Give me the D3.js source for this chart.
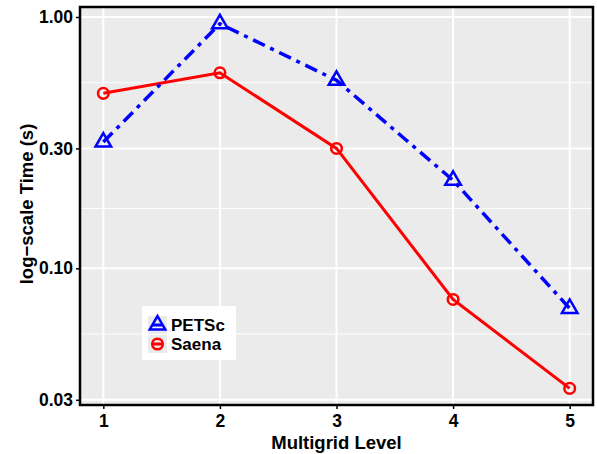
<!DOCTYPE html>
<html>
<head>
<meta charset="utf-8">
<script src="https://cdnjs.cloudflare.com/ajax/libs/d3/7.8.5/d3.min.js"></script>
<style>
  body { margin: 0; background: #fff; }
  text { font-family: "Liberation Sans", Arial, sans-serif; font-weight: bold; }
</style>
</head>
<body>
<div id="chart"></div>
<script>
// data
var levels = [1, 2, 3, 4, 5];
var petsc = [0.318, 0.94, 0.56, 0.224, 0.0693];
var saena = [0.497, 0.60, 0.30, 0.0752, 0.0333];
var yTicks = [0.03, 0.10, 0.30, 1.00];
var yMinor = [0.0548, 0.1732, 0.5477];

var width = 597, height = 454;
var m = {left: 80, right: 4, top: 7, bottom: 49};
var pw = width - m.left - m.right, ph = height - m.top - m.bottom;

var svg = d3.select("#chart").append("svg")
    .attr("width", width).attr("height", height);

var x = d3.scaleLinear().domain([0.8, 5.2]).range([0, pw]);
var y = d3.scaleLog().domain([0.0286, 1.096]).range([ph, 0]);

var g = svg.append("g").attr("transform", "translate(" + m.left + "," + m.top + ")");

// panel
g.append("rect").attr("width", pw).attr("height", ph).attr("fill", "#ebebeb");

g.selectAll(".ymin").data(yMinor).enter().append("line")
    .attr("x1", 0).attr("x2", pw)
    .attr("y1", d => y(d)).attr("y2", d => y(d))
    .attr("stroke", "#fff").attr("stroke-width", 1);
g.selectAll(".ymaj").data(yTicks).enter().append("line")
    .attr("x1", 0).attr("x2", pw)
    .attr("y1", d => y(d)).attr("y2", d => y(d))
    .attr("stroke", "#fff").attr("stroke-width", 2);
g.selectAll(".xmaj").data(levels).enter().append("line")
    .attr("y1", 0).attr("y2", ph)
    .attr("x1", d => x(d)).attr("x2", d => x(d))
    .attr("stroke", "#fff").attr("stroke-width", 2);

// lines
var lineGen = d3.line().x((d, i) => x(levels[i])).y(d => y(d));

g.append("path").datum(saena).attr("d", lineGen)
    .attr("fill", "none").attr("stroke", "#ff0000").attr("stroke-width", 3);
g.append("path").datum(petsc).attr("d", lineGen)
    .attr("fill", "none").attr("stroke", "#0000ff").attr("stroke-width", 3.5)
    .attr("stroke-dasharray", "13,6,4,6");

var tri = d3.symbol().type(d3.symbolTriangle).size(105);

g.selectAll(".sa").data(saena).enter().append("circle")
    .attr("cx", (d, i) => x(levels[i])).attr("cy", d => y(d)).attr("r", 5.3)
    .attr("fill", "none").attr("stroke", "#ff0000").attr("stroke-width", 2.5);
g.selectAll(".pe").data(petsc).enter().append("path")
    .attr("d", tri)
    .attr("transform", (d, i) => "translate(" + x(levels[i]) + "," + y(d) + ")")
    .attr("fill", "none").attr("stroke", "#0000ff").attr("stroke-width", 2.5);

// border
g.append("rect").attr("width", pw).attr("height", ph)
    .attr("fill", "none").attr("stroke", "#000").attr("stroke-width", 2.5);

// axes
var yAxis = d3.axisLeft(y).tickValues(yTicks).tickFormat(d3.format(".2f")).tickSize(4).tickPadding(3);
var yg = g.append("g").call(yAxis);
yg.select(".domain").remove();
yg.selectAll("text").attr("font-size", 17.5).attr("fill", "#000");
yg.selectAll("line").attr("stroke-width", 1.5);

var xAxis = d3.axisBottom(x).tickValues(levels).tickFormat(d3.format("d")).tickSize(4).tickPadding(6);
var xg = g.append("g").attr("transform", "translate(0," + ph + ")").call(xAxis);
xg.select(".domain").remove();
xg.selectAll("text").attr("font-size", 17.5).attr("fill", "#000");
xg.selectAll("line").attr("stroke-width", 1.5);

svg.append("text")
    .attr("x", m.left + pw / 2).attr("y", 449)
    .attr("text-anchor", "middle").attr("font-size", 18.5)
    .text("Multigrid Level");
svg.append("text")
    .attr("transform", "translate(33,204) rotate(-90)")
    .attr("text-anchor", "middle").attr("font-size", 18.5)
    .text("log\u2212scale Time (s)");

// legend
var leg = svg.append("g").attr("transform", "translate(142,306)");
leg.append("rect").attr("width", 94).attr("height", 54).attr("fill", "#fff");
var legItems = [
    {name: "PETSc", color: "#0000ff", shape: "tri"},
    {name: "Saena", color: "#ff0000", shape: "circle"}
];
legItems.forEach(function(it, i) {
    var cy = 19 + i * 19;
    leg.append("rect").attr("x", 6).attr("y", cy - 9).attr("width", 19).attr("height", 18).attr("fill", "#ebebeb");
    leg.append("line").attr("x1", 10).attr("x2", 21).attr("y1", cy).attr("y2", cy)
        .attr("stroke", it.color).attr("stroke-width", 3);
    if (it.shape === "tri") {
        leg.append("path").attr("d", tri).attr("transform", "translate(15.5," + cy + ")")
            .attr("fill", "none").attr("stroke", it.color).attr("stroke-width", 2.5);
    } else {
        leg.append("circle").attr("cx", 15.5).attr("cy", cy).attr("r", 5.3)
            .attr("fill", "none").attr("stroke", it.color).attr("stroke-width", 2.5);
    }
    leg.append("text").attr("x", 29).attr("y", cy + 6).attr("font-size", 17).text(it.name);
});
</script>
</body>
</html>
